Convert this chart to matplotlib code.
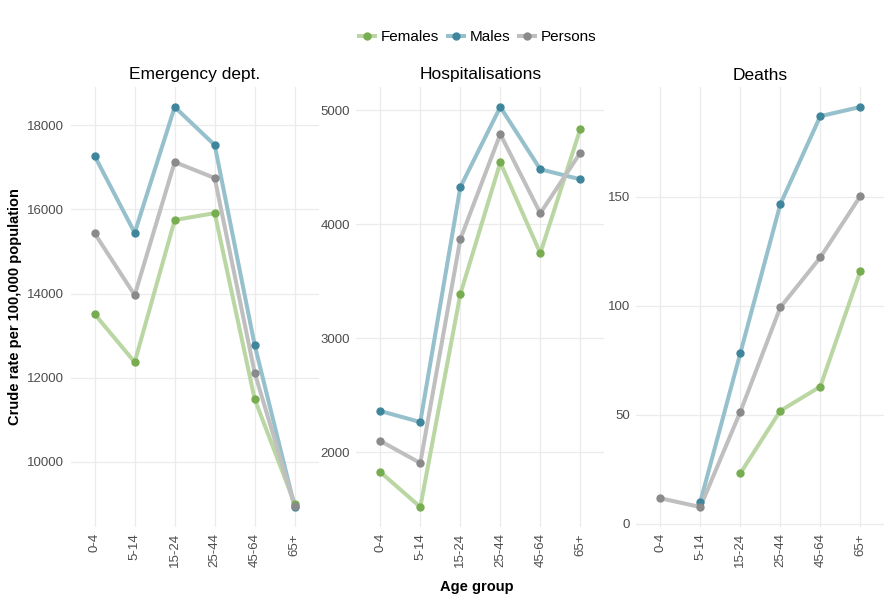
import numpy as np
import matplotlib
matplotlib.use('Agg')
import matplotlib.pyplot as plt
from matplotlib.lines import Line2D

plt.rcParams['font.family'] = ['Liberation Sans', 'DejaVu Sans']

age_groups = ['0-4', '5-14', '15-24', '25-44', '45-64', '65+']
series = ['Females', 'Males', 'Persons']
panels = ['Emergency dept.', 'Hospitalisations', 'Deaths']

ed_females = [13510, 12367, 15748, 15914, 11486, 9000]
ed_males = [17271, 15445, 18438, 17533, 12771, 8921]
ed_persons = [15430, 13962, 17128, 16748, 12112, 8940]

hosp_females = [1824, 1517, 3385, 4543, 3745, 4837]
hosp_males = [2360, 2263, 4325, 5030, 4483, 4395]
hosp_persons = [2097, 1903, 3868, 4792, 4097, 4628]

death_females = [np.nan, np.nan, 23.1, 51.8, 62.9, 115.8]
death_males = [np.nan, 10.0, 78.2, 146.5, 186.9, 191.1]
death_persons = [11.7, 7.7, 51.3, 99.2, 122.1, 150.2]

data = {
    'Emergency dept.': [ed_females, ed_males, ed_persons],
    'Hospitalisations': [hosp_females, hosp_males, hosp_persons],
    'Deaths': [death_females, death_males, death_persons],
}
yticks = {
    'Emergency dept.': [10000, 12000, 14000, 16000, 18000],
    'Hospitalisations': [2000, 3000, 4000, 5000],
    'Deaths': [0, 50, 100, 150],
}

line_cols = ['#bad7a3', '#95c0cc', '#bfbfbf']
pt_cols = ['#77ad50', '#3f869d', '#8a8a8a']
grid_col = '#ebebeb'
txt_col = '#4d4d4d'

W, H = 890, 600
fig = plt.figure(figsize=(8.9, 6), dpi=100)
lefts = [70.7, 356.3, 636.3]
pw = 248.0
top, bot = 87, 527

x = np.arange(len(age_groups))
for i, name in enumerate(panels):
    ax = fig.add_axes([lefts[i] / W, 1 - bot / H, pw / W, (bot - top) / H])
    vals = data[name]
    for j in range(3):
        ax.plot(x, vals[j], color=line_cols[j], lw=2.9, solid_capstyle='round', zorder=2)
    for j in range(3):
        ax.plot(x, vals[j], ls='none', marker='o', ms=5, color=pt_cols[j], zorder=3)
    allv = np.array(vals, dtype=float)
    lo, hi = np.nanmin(allv), np.nanmax(allv)
    pad = (hi - lo) * 0.05
    ax.set_ylim(lo - pad, hi + pad)
    ax.set_xlim(-0.6, len(age_groups) - 0.4)
    ax.set_xticks(x)
    ax.set_xticklabels(age_groups, rotation=90, fontsize=9.5, color=txt_col)
    ax.set_yticks(yticks[name])
    ax.set_yticklabels([str(v) for v in yticks[name]], fontsize=9.5, color=txt_col)
    ax.tick_params(length=0, pad=4.5)
    ax.grid(True, color=grid_col, lw=0.9, zorder=0)
    ax.set_axisbelow(True)
    for s in ax.spines.values():
        s.set_visible(False)
    fig.text((lefts[i] + pw / 2) / W, 1 - 75 / H, name, ha='center', va='center', fontsize=12.5)

fig.text(15 / W, 1 - 307 / H, 'Crude rate per 100,000 population', rotation=90,
         ha='center', va='center', fontsize=10.5, fontweight='bold')
fig.text(477 / W, 1 - 587 / H, 'Age group', ha='center', va='center',
         fontsize=10.5, fontweight='bold')

handles = [Line2D([0], [0], color=line_cols[j], lw=2.9, marker='o', ms=5,
                  markerfacecolor=pt_cols[j], markeredgecolor=pt_cols[j])
           for j in range(3)]
fig.legend(handles, series, loc='center', bbox_to_anchor=(478 / W, 1 - 37 / H),
           ncol=3, frameon=False, fontsize=11, handlelength=1.0,
           handletextpad=0.4, columnspacing=0.6)

fig.savefig('out.png', dpi=100, facecolor='white')
